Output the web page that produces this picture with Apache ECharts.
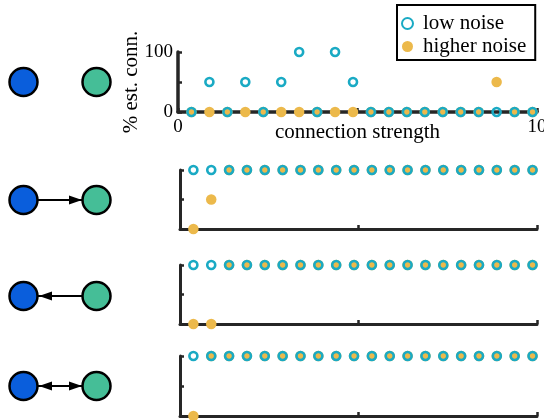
<!DOCTYPE html>
<html>
<head>
<meta charset="utf-8">
<script src="https://cdn.jsdelivr.net/npm/echarts@6/dist/echarts.min.js"></script>
<style>
html,body{margin:0;padding:0;background:#fff;}
#c{width:544px;height:420px;}
</style>
</head>
<body>
<div id="c"></div>
<script>
// connection strength (x) of each tested condition
const strength = [0.375, 0.875, 1.375, 1.875, 2.375, 2.875, 3.375, 3.875, 4.375, 4.875,
                  5.375, 5.875, 6.375, 6.875, 7.375, 7.875, 8.375, 8.875, 9.375, 9.875];
// % estimated connections — no connection
const lowNone  = [0, 50, 0, 50, 0, 50, 100, 0, 100, 50, 0, 0, 0, 0, 0, 0, 0, 0, 0, 0];
const highNone = [0, 0, 0, 0, 0, 0, 0, 0, 0, 0, 0, 0, 0, 0, 0, 0, 0, 50, 0, 0];
// forward connection (blue -> green)
const lowFwd  = [100, 100, 100, 100, 100, 100, 100, 100, 100, 100, 100, 100, 100, 100, 100, 100, 100, 100, 100, 100];
const highFwd = [0, 50, 100, 100, 100, 100, 100, 100, 100, 100, 100, 100, 100, 100, 100, 100, 100, 100, 100, 100];
// backward connection (green -> blue)
const lowBwd  = [100, 100, 100, 100, 100, 100, 100, 100, 100, 100, 100, 100, 100, 100, 100, 100, 100, 100, 100, 100];
const highBwd = [0, 0, 100, 100, 100, 100, 100, 100, 100, 100, 100, 100, 100, 100, 100, 100, 100, 100, 100, 100];
// bidirectional connection
const lowBi  = [100, 100, 100, 100, 100, 100, 100, 100, 100, 100, 100, 100, 100, 100, 100, 100, 100, 100, 100, 100];
const highBi = [0, 100, 100, 100, 100, 100, 100, 100, 100, 100, 100, 100, 100, 100, 100, 100, 100, 100, 100, 100];
const xTickLabels = ['0', '10'];
const yTickLabels = ['0', '100'];
const seriesNames = ['low noise', 'higher noise'];

const FONT = 'Liberation Serif';
const TEAL = '#1aaac4';
const YELLOW = '#ecb94b';
const AX = '#262626';

const panels = [
  {low: lowNone, high: highNone, grid: {left: 178, top: 52, width: 359, height: 60}, labels: true, lw: 3.5},
  {low: lowFwd,  high: highFwd,  grid: {left: 180, top: 170, width: 357, height: 59}, labels: false, lw: 3},
  {low: lowBwd,  high: highBwd,  grid: {left: 180, top: 265, width: 357, height: 59}, labels: false, lw: 3},
  {low: lowBi,   high: highBi,   grid: {left: 180, top: 356, width: 357, height: 60}, labels: false, lw: 3}
];

const grids = [], xAxes = [], yAxes = [], series = [];
panels.forEach((p, i) => {
  grids.push(Object.assign({outerBoundsMode: 'none', containLabel: false}, p.grid));
  xAxes.push({
    type: 'value', gridIndex: i, min: 0, max: 10, interval: 5,
    axisLine: {show: true, lineStyle: {color: AX, width: p.lw}},
    axisTick: {show: true, inside: true, length: 4, lineStyle: {color: AX, width: 2.5}},
    splitLine: {show: false},
    axisLabel: {
      show: p.labels, margin: 6, fontFamily: FONT, fontSize: 19, color: '#000',
      formatter: v => (xTickLabels.indexOf(String(v)) >= 0 ? String(v) : '')
    },
    name: p.labels ? 'connection strength' : '',
    nameLocation: 'middle', nameGap: 10, nameMoveOverlap: false,
    nameTextStyle: {fontFamily: FONT, fontSize: 21, color: '#000'}
  });
  yAxes.push({
    type: 'value', gridIndex: i, min: 0, max: 100, interval: 50,
    axisLine: {show: true, lineStyle: {color: AX, width: p.lw}},
    axisTick: {show: true, inside: true, length: 4, lineStyle: {color: AX, width: 2.5}},
    splitLine: {show: false},
    axisLabel: {
      show: p.labels, margin: 5, fontFamily: FONT, fontSize: 19, color: '#000',
      formatter: v => (yTickLabels.indexOf(String(v)) >= 0 ? String(v) : '')
    },
    name: p.labels ? '% est. conn.' : '',
    nameLocation: 'middle', nameGap: 36, nameMoveOverlap: false,
    nameTextStyle: {fontFamily: FONT, fontSize: 21, color: '#000'}
  });
  series.push({
    type: 'scatter', name: seriesNames[1], xAxisIndex: i, yAxisIndex: i, clip: false,
    symbol: 'circle', symbolSize: 10.5, z: 3,
    itemStyle: {color: YELLOW, opacity: 1},
    data: strength.map((x, j) => [x, p.high[j]])
  });
  series.push({
    type: 'scatter', name: seriesNames[0], xAxisIndex: i, yAxisIndex: i, clip: false,
    symbol: 'circle', symbolSize: 8, z: 4,
    itemStyle: {color: 'rgba(255,255,255,0)', borderColor: TEAL, borderWidth: 2.6, opacity: 1},
    data: strength.map((x, j) => [x, p.low[j]])
  });
});

// network diagrams (illustrations on the left)
const BLUE = '#0a5edc', GREEN = '#45be97';
const rows = [82, 200, 296, 386];
const arrows = [[], ['right'], ['left'], ['left', 'right']];
const graphic = [];
rows.forEach((cy, r) => {
  if (r > 0) {
    graphic.push({type: 'line', shape: {x1: 38, y1: cy, x2: 82, y2: cy}, style: {stroke: '#000', lineWidth: 2}, z: 1});
  }
  arrows[r].forEach(d => {
    const pts = d === 'right'
      ? [[82, cy], [69, cy - 4.5], [69, cy + 4.5]]
      : [[39, cy], [52, cy - 4.5], [52, cy + 4.5]];
    graphic.push({type: 'polygon', shape: {points: pts}, style: {fill: '#000'}, z: 2});
  });
  graphic.push({type: 'circle', shape: {cx: 23.5, cy: cy, r: 14}, style: {fill: BLUE, stroke: '#000', lineWidth: 2.5}, z: 3});
  graphic.push({type: 'circle', shape: {cx: 96.5, cy: cy, r: 14}, style: {fill: GREEN, stroke: '#000', lineWidth: 2.5}, z: 3});
});

const chart = echarts.init(document.getElementById('c'), null, {renderer: 'canvas'});
chart.setOption({
  animation: false,
  backgroundColor: '#fff',
  grid: grids, xAxis: xAxes, yAxis: yAxes, series: series,
  legend: {
    data: seriesNames, left: 397, top: 5, orient: 'vertical',
    borderColor: '#000', borderWidth: 2, backgroundColor: '#fff',
    padding: [8, 9, 3, 4], itemGap: 2, itemWidth: 11, itemHeight: 11,
    textStyle: {fontFamily: FONT, fontSize: 21, color: '#000', padding: [0, 0, 0, 5]}
  },
  graphic: graphic
});
</script>
</body>
</html>
